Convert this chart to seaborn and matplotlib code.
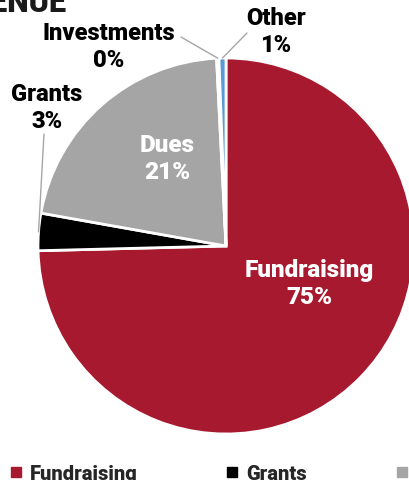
import numpy as np
import matplotlib
matplotlib.use("Agg")
import matplotlib.pyplot as plt
import seaborn as sns

# data
categories = ["Fundraising", "Grants", "Dues", "Investments", "Other"]
shares = [74.6, 3.2, 21.4, 0.2, 0.6]
pct_labels = ["75%", "3%", "21%", "0%", "1%"]
colors = ["#a6192e", "#000000", "#a5a5a5", "#c9d3de", "#5b9bd5"]

sns.set_style("white")
plt.rcParams["font.family"] = ["Roboto", "DejaVu Sans"]

fig = plt.figure(figsize=(4.09, 4.8), dpi=100)
ax = fig.add_axes([0, 0, 1, 1])

# pie: clockwise from top
wedges, _ = ax.pie(shares, colors=colors, startangle=90, counterclock=False,
                   radius=1, center=(0, 0),
                   wedgeprops=dict(edgecolor="white", linewidth=2))

# pixel scale: center at (226, 246), radius 188 px
S = 188.0
cx, cy = 226, 246
ax.set_xlim(-cx / S, (409 - cx) / S)
ax.set_ylim(-(480 - cy) / S, cy / S)
ax.set_aspect("auto")
ax.axis("off")

def px(x, y):
    return ((x - cx) / S, (cy - y) / S)

# inside labels
for i, pos in [(0, (309, 284)), (2, (167, 159))]:
    ax.text(*px(*pos), f"{categories[i]}\n{pct_labels[i]}", color="white",
            fontsize=17.5, fontweight="black", ha="center", va="center",
            linespacing=1.25)

# outside labels with leader lines
outside = {1: ((47, 108), (44, 134)), 3: ((109, 47), (181, 37)), 4: ((276, 32), (247, 33))}
for i, (lab, anchor) in outside.items():
    ax.text(*px(*lab), f"{categories[i]}\n{pct_labels[i]}", color="black",
            fontsize=17, fontweight="black", ha="center", va="center",
            linespacing=1.25)
    w = wedges[i]
    ang = np.deg2rad((w.theta1 + w.theta2) / 2)
    ex, ey = 1.0 * np.cos(ang), 1.0 * np.sin(ang)
    ax.plot([ex, px(*anchor)[0]], [ey, px(*anchor)[1]], color="#a6a6a6", lw=1)

# title (cropped)
ax.text(*px(66, 12), "REVENUE", fontsize=22, fontweight="black", ha="right",
        va="baseline", color="#1a1a1a")

# legend
handles = [plt.Line2D([], [], marker="s", ls="", color=c, markersize=7) for c in colors]
leg = fig.legend(handles, categories, loc="upper left", bbox_to_anchor=(-0.025, 0.07),
                 ncol=5, frameon=False, handlelength=0.8, handletextpad=0.3,
                 columnspacing=4.3, prop=dict(size=14.5, weight="black"))

fig.savefig("out.png", dpi=100)
